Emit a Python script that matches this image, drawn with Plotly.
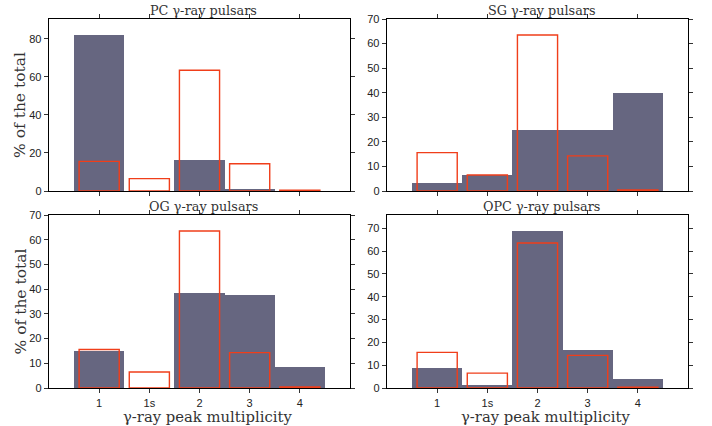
import plotly.graph_objects as go

categories = ["1", "1s", "2", "3", "4"]
positions = [1, 2, 3, 4, 5]

observed = [15.6, 6.5, 63.5, 14.3, 0.4]

pc_values = [82.3, 0.0, 16.5, 1.2, 0.0]
sg_values = [3.3, 6.7, 25.0, 25.0, 39.7]
og_values = [14.8, 0.0, 38.5, 37.7, 8.7]
opc_values = [8.8, 1.3, 68.8, 16.8, 4.0]

panel_titles = ["PC γ-ray pulsars", "SG γ-ray pulsars", "OG γ-ray pulsars", "OPC γ-ray pulsars"]
panel_values = [pc_values, sg_values, og_values, opc_values]
y_ranges = [[0, 90.5], [0, 70], [0, 70], [0, 75.8]]
y_ticks = [[0, 20, 40, 60, 80], [0, 10, 20, 30, 40, 50, 60, 70],
           [0, 10, 20, 30, 40, 50, 60, 70], [0, 10, 20, 30, 40, 50, 60, 70]]

W, H = 712, 426
FILL = "#666680"
RED = "#f03e1a"
SERIF = "DejaVu Serif"
SANS = "Liberation Sans"

# panel boxes in window pixels (x0, x1, ytop, ybottom)
boxes = [(49, 350, 19, 191), (387, 688, 19, 191), (49, 350, 215, 388), (387, 688, 215, 388)]


def px(x):
    return x / W


def py(y):
    return 1 - y / H


fig = go.Figure()
for i, (vals, title) in enumerate(zip(panel_values, panel_titles)):
    n = i + 1
    xa = "x" if n == 1 else f"x{n}"
    ya = "y" if n == 1 else f"y{n}"
    fig.add_trace(go.Bar(x=positions, y=vals, width=1.0, marker=dict(color=FILL, line=dict(width=0)),
                         xaxis=xa, yaxis=ya, showlegend=False, hoverinfo="skip"))
    fig.add_trace(go.Bar(x=positions, y=observed, width=0.8,
                         marker=dict(color="rgba(0,0,0,0)", line=dict(color=RED, width=1.4)),
                         xaxis=xa, yaxis=ya, showlegend=False, hoverinfo="skip"))
    x0, x1, yt, yb = boxes[i]
    bottom_row = i >= 2
    axis_common = dict(showline=True, linecolor="black", linewidth=1.3, mirror="ticks",
                       ticks="outside", ticklen=4, tickwidth=1, tickcolor="#333",
                       showgrid=False, zeroline=False, automargin=False,
                       tickfont=dict(family=SANS, size=11, color="#222"))
    fig.update_layout(**{
        ("xaxis" if n == 1 else f"xaxis{n}"): dict(
            domain=[px(x0), px(x1)], anchor=ya, range=[0, 6],
            tickvals=positions, ticktext=categories, showticklabels=bottom_row, **axis_common),
        ("yaxis" if n == 1 else f"yaxis{n}"): dict(
            domain=[py(yb), py(yt)], anchor=xa, range=y_ranges[i],
            tickvals=y_ticks[i], **axis_common),
    })
    fig.add_annotation(text=title, x=px((x0 + x1) / 2 + 4), y=py(yt + 1),
                       xref="paper", yref="paper", xanchor="center", yanchor="bottom",
                       showarrow=False, font=dict(family=SERIF, size=12.8, color="#333"))
    if i % 2 == 0:
        fig.add_annotation(text="% of the total", x=px(20), y=py((yt + yb) / 2),
                           xref="paper", yref="paper", xanchor="center", yanchor="middle",
                           textangle=-90, showarrow=False,
                           font=dict(family=SERIF, size=15.5, color="#333"))
    if bottom_row:
        fig.add_annotation(text="γ-ray peak multiplicity", x=px((x0 + x1) / 2 + 8), y=py(416.5),
                           xref="paper", yref="paper", xanchor="center", yanchor="middle",
                           showarrow=False, borderpad=0,
                           font=dict(family=SERIF, size=14.8, color="#333"))

fig.update_layout(template="none", width=W, height=H, margin=dict(l=0, r=0, t=0, b=0),
                  paper_bgcolor="white", plot_bgcolor="white", barmode="overlay",
                  bargap=0, hovermode=False)
fig.write_html("out.html", config={"displayModeBar": False, "staticPlot": True},
               post_script="document.body.style.margin='0';document.body.style.overflow='hidden';")
